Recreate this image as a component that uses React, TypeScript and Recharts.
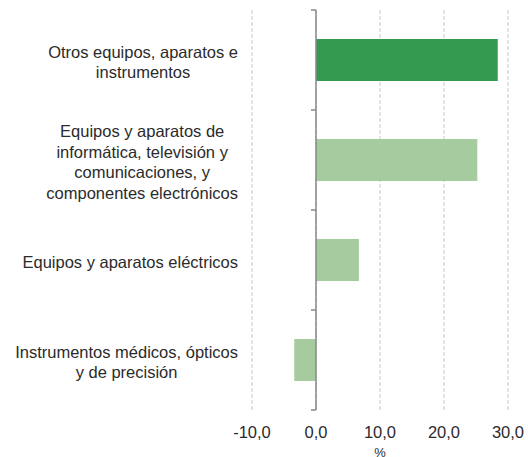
import React from "react";
import {
  BarChart,
  Bar,
  XAxis,
  YAxis,
  CartesianGrid,
  ReferenceLine,
  Cell,
} from "recharts";

const categories = [
  "Otros equipos, aparatos e\ninstrumentos",
  "Equipos y aparatos de\ninformática, televisión y\ncomunicaciones, y\ncomponentes electrónicos",
  "Equipos y aparatos eléctricos",
  "Instrumentos médicos, ópticos\ny de precisión",
];
const values = [28.4, 25.2, 6.7, -3.4];
const xTicks = [-10, 0, 10, 20, 30];

const W = 528;
const H = 457;
const FONT = "Liberation Sans, Arial, sans-serif";
const FONT_SIZE = 16.5;
const TEXT = "#2b2b2b";
const DARK = "#349a50";
const LIGHT = "#a5cb9f";

const data = categories.map((name, i) => ({ name, value: values[i] }));

let ctx: CanvasRenderingContext2D | null = null;
function textWidth(s: string) {
  if (!ctx) ctx = document.createElement("canvas").getContext("2d");
  if (!ctx) return s.length * 7.5;
  ctx.font = `${FONT_SIZE}px ${FONT}`;
  return ctx.measureText(s).width;
}

function CategoryTick(props: any) {
  const { x, y, payload } = props;
  const lines: string[] = String(payload.value).split("\n");
  const blockW = Math.max(...lines.map(textWidth));
  const right = x - 6;
  const cx = right - blockW / 2;
  const lh = 20.5;
  const y0 = y + 2 - ((lines.length - 1) * lh) / 2;
  return (
    <text
      textAnchor="middle"
      fontFamily={FONT}
      fontSize={FONT_SIZE}
      fill={TEXT}
    >
      {lines.map((l, i) => (
        <tspan key={i} x={cx} y={y0 + i * lh} dy="0.35em">
          {l}
        </tspan>
      ))}
    </text>
  );
}

// axis line at zero with tick marks between categories
function ZeroAxis(props: any) {
  const { x1, y1, y2 } = props;
  const n = categories.length;
  const step = (y2 - y1) / n;
  const marks = Array.from({ length: n + 1 }, (_, i) => y1 + i * step);
  return (
    <g stroke="#888" strokeWidth={1.5}>
      <line x1={x1} x2={x1} y1={y1} y2={y2} />
      {marks.map((m, i) => (
        <line key={i} x1={x1 - 5} x2={x1} y1={m} y2={m} />
      ))}
    </g>
  );
}

export default function App() {
  return (
    <div style={{ position: "fixed", left: 0, top: 0, background: "#fff" }}>
      <BarChart
        width={W}
        height={H}
        data={data}
        layout="vertical"
        margin={{ top: 10, right: 20, bottom: 0, left: 0 }}
      >
        <CartesianGrid
          horizontal={false}
          stroke="#c8c8c8"
          strokeDasharray="4 2"
        />
        <XAxis
          type="number"
          domain={[-10, 30]}
          ticks={xTicks}
          height={47}
          axisLine={false}
          tickLine={false}
          tickMargin={10}
          tick={{ fill: TEXT, fontSize: FONT_SIZE, fontFamily: FONT }}
          tickFormatter={(v: number) => v.toFixed(1).replace(".", ",")}
          label={{
            value: "%",
            position: "insideBottom",
            offset: 0,
            fill: TEXT,
            fontSize: 13,
            fontFamily: FONT,
          }}
        />
        <YAxis
          type="category"
          dataKey="name"
          width={252}
          axisLine={false}
          tickLine={false}
          tick={<CategoryTick />}
        />
        <Bar dataKey="value" barSize={42} isAnimationActive={false}>
          {data.map((_, i) => (
            <Cell key={i} fill={i === 0 ? DARK : LIGHT} />
          ))}
        </Bar>
        <ReferenceLine x={0} shape={<ZeroAxis />} />
      </BarChart>
    </div>
  );
}
